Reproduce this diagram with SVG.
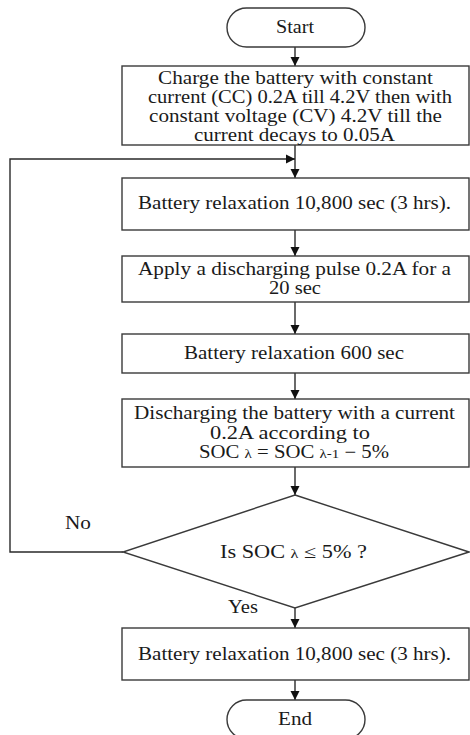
<svg xmlns="http://www.w3.org/2000/svg" width="470" height="735" viewBox="0 0 470 735">
<style>
.n{fill:#fff;stroke:#3a3a3a;stroke-width:1.4}
.c{fill:none;stroke:#2a2a2a;stroke-width:1.4}
text{font-family:"Liberation Serif","Times New Roman",serif;font-size:18px;fill:#1a1a1a;text-anchor:middle}
.l{text-anchor:start}
.s{font-size:13px}
</style>
<defs>
<marker id="ah" markerWidth="10" markerHeight="10" refX="9" refY="5" orient="auto" markerUnits="userSpaceOnUse">
<path d="M0,0.5 L9,5 L0,9.5 Z" fill="#111"/>
</marker>
</defs>
<rect width="470" height="735" fill="#fff"/>
<g id="connectors">
<line class="c" x1="295" y1="47" x2="295" y2="66" marker-end="url(#ah)"/>
<line class="c" x1="295" y1="145" x2="295" y2="178" marker-end="url(#ah)"/>
<polyline class="c" points="123,552 10,552 10,159 295,159" marker-end="url(#ah)"/>
<line class="c" x1="295" y1="230" x2="295" y2="256" marker-end="url(#ah)"/>
<line class="c" x1="295" y1="302" x2="295" y2="334" marker-end="url(#ah)"/>
<line class="c" x1="295" y1="373" x2="295" y2="399" marker-end="url(#ah)"/>
<line class="c" x1="295" y1="467" x2="295" y2="495" marker-end="url(#ah)"/>
<line class="c" x1="295" y1="608" x2="295" y2="628" marker-end="url(#ah)"/>
<line class="c" x1="295" y1="680" x2="295" y2="700" marker-end="url(#ah)"/>
<text class="l" x="65" y="529" textLength="26" lengthAdjust="spacingAndGlyphs">No</text>
<text class="l" x="228" y="613" textLength="30" lengthAdjust="spacingAndGlyphs">Yes</text>
</g>
<g id="start">
<rect class="n" x="227" y="8" width="138" height="39" rx="19.5"/>
<text x="295" y="33" textLength="38" lengthAdjust="spacingAndGlyphs">Start</text>
</g>
<g id="charge">
<rect class="n" x="122" y="66" width="347" height="79"/>
<text x="295.5" y="84" textLength="275" lengthAdjust="spacingAndGlyphs">Charge the battery with constant</text>
<text x="300" y="103" textLength="304" lengthAdjust="spacingAndGlyphs">current (CC) 0.2A till 4.2V then with</text>
<text x="295.5" y="122" textLength="293" lengthAdjust="spacingAndGlyphs">constant voltage (CV) 4.2V till the</text>
<text x="294.5" y="141" textLength="201" lengthAdjust="spacingAndGlyphs">current decays to 0.05A</text>
</g>
<g id="relax1">
<rect class="n" x="122" y="178" width="347" height="52"/>
<text x="294.5" y="209" textLength="313" lengthAdjust="spacingAndGlyphs">Battery relaxation 10,800 sec (3 hrs).</text>
</g>
<g id="pulse">
<rect class="n" x="122" y="256" width="347" height="46"/>
<text x="294.5" y="275" textLength="313" lengthAdjust="spacingAndGlyphs">Apply a discharging pulse 0.2A for a</text>
<text x="295" y="294" textLength="52" lengthAdjust="spacingAndGlyphs">20 sec</text>
</g>
<g id="relax2">
<rect class="n" x="122" y="334" width="347" height="39"/>
<text x="294" y="359" textLength="220" lengthAdjust="spacingAndGlyphs">Battery relaxation 600 sec</text>
</g>
<g id="discharge">
<rect class="n" x="122" y="399" width="347" height="68"/>
<text x="294.5" y="419" textLength="321" lengthAdjust="spacingAndGlyphs">Discharging the battery with a current</text>
<text x="290" y="439" textLength="160" lengthAdjust="spacingAndGlyphs">0.2A according to</text>
<text x="294" y="458" textLength="190" lengthAdjust="spacingAndGlyphs">SOC <tspan class="s">λ</tspan> = SOC <tspan class="s">λ-1</tspan> − 5%</text>
</g>
<g id="decision">
<polygon class="n" points="295,495 469,552 295,608 123,552"/>
<text x="293.5" y="558" textLength="147" lengthAdjust="spacingAndGlyphs">Is SOC <tspan class="s">λ</tspan>  ≤  5% ?</text>
</g>
<g id="relax3">
<rect class="n" x="122" y="628" width="347" height="52"/>
<text x="294.5" y="660" textLength="313" lengthAdjust="spacingAndGlyphs">Battery relaxation 10,800 sec (3 hrs).</text>
</g>
<g id="end">
<rect class="n" x="227" y="700" width="138" height="39" rx="19.5"/>
<text x="295" y="725" textLength="34" lengthAdjust="spacingAndGlyphs">End</text>
</g>
</svg>
